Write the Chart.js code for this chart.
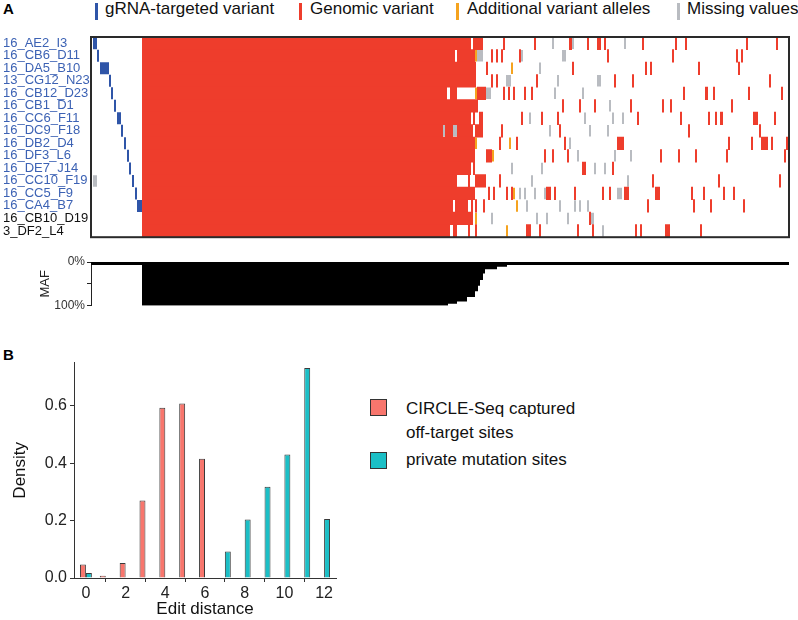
<!DOCTYPE html>
<html>
<head>
<meta charset="utf-8">
<script src="https://cdn.jsdelivr.net/npm/chart.js@4/dist/chart.umd.min.js"></script>
<style>
  body { margin: 0; background: #fff; font-family: "Liberation Sans", Arial, sans-serif; }
  #page { position: relative; width: 798px; height: 620px; overflow: hidden; }
  canvas { position: absolute; left: 0; }
  .lbl { position: absolute; font-size: 17px; line-height: 20px; color: #111; white-space: nowrap; }
  .tick { position: absolute; width: 3px; height: 17px; }
  .sq { position: absolute; width: 15px; height: 15px; border: 1px solid #333; }
  .panel { position: absolute; font-weight: bold; font-size: 15px; color: #000; }
</style>
</head>
<body>
<div id="page">
  <div class="panel" style="left:3px;top:0px;">A</div>
  <div class="panel" style="left:3px;top:346px;">B</div>

  <div class="tick" style="left:95px;top:3px;background:#2f55a8;"></div>
  <div class="lbl" style="left:105px;top:-1px;">gRNA-targeted variant</div>
  <div class="tick" style="left:299px;top:3px;background:#ee3d2c;"></div>
  <div class="lbl" style="left:310px;top:-1px;">Genomic variant</div>
  <div class="tick" style="left:456px;top:3px;background:#f5a31f;"></div>
  <div class="lbl" style="left:467px;top:-1px;">Additional variant alleles</div>
  <div class="tick" style="left:677px;top:3px;background:#b9bcc1;"></div>
  <div class="lbl" style="left:687px;top:-1px;">Missing values</div>

  <canvas id="heat" width="798" height="245" style="top:0px;"></canvas>
  <canvas id="maf" width="798" height="65" style="top:250px;"></canvas>
  <canvas id="dens" width="360" height="270" style="top:350px;"></canvas>

  <div class="sq" style="left:370px;top:399px;background:#f8766d;"></div>
  <div class="lbl" style="left:406px;top:397px;line-height:24px;">CIRCLE-Seq captured<br>off-target sites</div>
  <div class="sq" style="left:370px;top:452px;background:#1bbfc6;"></div>
  <div class="lbl" style="left:406px;top:450px;">private mutation sites</div>
</div>
<script>
// samples (rows of panel A)
const samples = ['16_AE2_I3', '16_CB6_D11', '16_DA5_B10', '13_CG12_N23', '16_CB12_D23', '16_CB1_D1',
  '16_CC6_F11', '16_DC9_F18', '16_DB2_D4', '16_DF3_L6', '16_DE7_J14', '16_CC10_F19', '16_CC5_F9',
  '16_CA4_B7', '16_CB10_D19', '3_DF2_L4'];
const variantColumns = 349;

// variant ranges per sample, in variant-column units [from, to]
const gRNAVariant = [
  [[1, 3]], [[3, 4]], [[4.5, 9]], [[9, 10]], [[10, 11]], [[11.5, 12.5]], [[13, 15]], [[15, 16]],
  [[16.5, 17.5]], [[18, 19]], [[19, 20]], [[20.5, 21.5]], [[22, 23]], [[23, 25.5]], [], []
];
const genomicVariant = [
  [[25.5,190],[191,196],[206,207],[221.5,222.5],[239,240.5],[248,249],[253,255],[256.5,257.5],[275.5,276.5],[292,293],[297,298],[327.5,328.5],[342.5,343.5]],
  [[25.5,182],[183,192],[200,201],[202.5,203.5],[205,206],[214,215],[258,259],[290.5,291.5],[322.5,323.5],[325,326]],
  [[25.5,192.5],[197.5,198.5],[240.5,241.5],[277,278],[279.5,280.5],[303.5,304.5],[323.5,324.5]],
  [[25.5,192.5],[200,201],[202.5,203.5],[222.5,223.5],[261.5,262.5],[270.5,271.5],[339,340]],
  [[25.5,178],[179.5,183],[193,197.5],[206,207],[208.5,209.5],[211,212],[216.5,217.5],[220,221],[296,297],[307,308.5],[311,312],[328.5,329.5],[345,346]],
  [[25.5,193.5],[235.5,236.5],[244,245],[251.5,252.5],[269.5,270.5],[285.5,286.5],[289.5,290.5],[320,321]],
  [[25.5,190],[191,192],[194,196],[215,216],[225,226],[233,234],[273,274],[294.5,295.5],[308.5,309.5],[312,313],[314.5,316],[331,333.5],[341.5,342.5]],
  [[25.5,176],[177,181],[183,191],[192,196],[205,206],[234,235],[298.5,299.5],[334,335]],
  [[25.5,192],[204,205],[212.5,213.5],[236.5,237.5],[263,266.5],[318.5,319.5],[330,331],[335,338.5],[340,341],[347.5,348.5]],
  [[25.5,192],[197.5,200.5],[226.5,227.5],[230.5,231.5],[238,239],[284.5,285.5],[293.5,294.5],[302,303],[317.5,318.5],[346.5,347.5]],
  [[25.5,190],[191,192],[245.5,247.5],[260.5,261.5]],
  [[25.5,183],[188.5,189.5],[192,197.5],[204,205],[280.5,281.5],[313.5,314.5],[344,345]],
  [[25.5,192],[198.5,199.5],[201,202],[207.5,208.5],[210,211],[227.5,230],[231.5,232.5],[241.5,242.5],[255.5,256.5],[259,260],[266.5,269],[282,284.5],[300,301],[306,307],[316,317],[321,322]],
  [[25.5,181],[182,188.5],[190,191],[192,193],[196,197],[278,279],[301,302],[309.5,310.5],[326,327]],
  [[25.5,191],[249,250]],
  [[25.5,179.5],[181,183],[188.5,189.5],[192,193],[217.5,220],[224,225],[243,244],[250.5,251.5],[272,273],[274.5,275.5],[287,289.5],[304.5,305.5]]
];
const additionalAllele = [
  [], [[192,193]], [[210,211]], [], [[192,193]], [], [], [], [[192,193],[209,210]], [[200.5,201.5]],
  [], [], [[211,212]], [[212.5,213.5]], [[192,193]], [[207.5,208.5]]
];
const missingValue = [
  [[230.5,231.5],[240.5,241.5],[266.5,267.5]],
  [[114,115],[193,196],[215,216],[235.5,237.5]],
  [[224,225]],
  [[100,101],[207.5,210],[233,234],[253,255]],
  [[197.5,200],[231.5,232.5],[245.5,246.5]],
  [[53.5,54.5],[259,260]],
  [[219,220],[246.5,247.5],[260.5,261.5],[265.5,266.5]],
  [[176,177],[181,183],[229,230],[249,250],[258,259]],
  [[239,240]],
  [[243,244],[261.5,262.5],[269.5,270.5]],
  [[25.5,27],[92.5,96.5],[210,211],[225,226],[251.5,252.5],[256.5,257.5]],
  [[1,3],[62,63],[220,221],[268,269]],
  [[214,215],[216.5,217.5],[221.5,222.5],[226.5,227.5],[263,265.5]],
  [[217.5,218.5],[234,235],[241.5,242.5],[244,245],[248,249]],
  [[80,81],[200,201],[222.5,223.5],[227.5,228.5],[238,239],[250,251.5]],
  [[255.5,256.5]]
];

// MAF per variant column: [first column, MAF]
const mafSteps = [[0,0.07],[25.5,1],[178.5,0.955],[183,0.9],[188,0.8],[192,0.67],[193.5,0.545],
  [194.5,0.41],[196,0.26],[197,0.167],[203,0.106],[208,0.07],[349,0.07]];

// panel B
const editDistance = [0, 1, 2, 3, 4, 5, 6, 7, 8, 9, 10, 11, 12];
const circleSeqDensity = [0.047, 0.008, 0.052, 0.27, 0.593, 0.608, 0.415, null, null, null, null, null, null];
const privateDensity = [0.017, null, null, null, null, null, null, 0.092, 0.204, 0.318, 0.43, 0.731, 0.205];

const FONT = '"Liberation Sans", Arial, sans-serif';

function toBars(rows) {
  return rows.flatMap((marks, r) => marks.map(m => ({ y: samples[r], x: m })));
}

const frame = {
  id: 'frame',
  afterDatasetsDraw(chart) {
    const a = chart.chartArea, c = chart.ctx;
    c.save();
    c.strokeStyle = '#2a2a2a';
    c.lineWidth = 2;
    c.strokeRect(a.left, a.top, a.right - a.left, a.bottom - a.top);
    c.restore();
  }
};

new Chart(document.getElementById('heat'), {
  type: 'bar',
  data: {
    labels: samples,
    datasets: [
      { label: 'Genomic variant', data: toBars(genomicVariant), backgroundColor: '#ee3d2c', barPercentage: 1.06 },
      { label: 'Missing values', data: toBars(missingValue), backgroundColor: '#b9bcc1', barPercentage: 0.92 },
      { label: 'Additional variant alleles', data: toBars(additionalAllele), backgroundColor: '#f5a31f', barPercentage: 0.92 },
      { label: 'gRNA-targeted variant', data: toBars(gRNAVariant), backgroundColor: '#2f55a8', barPercentage: 0.96 }
    ]
  },
  options: {
    indexAxis: 'y',
    responsive: false,
    animation: false,
    layout: { padding: { left: 3, right: 9, top: 37, bottom: 7 } },
    datasets: { bar: { grouped: false, categoryPercentage: 1, borderWidth: 0, borderSkipped: false } },
    plugins: { legend: { display: false }, tooltip: { enabled: false } },
    scales: {
      x: { type: 'linear', min: 0, max: variantColumns, display: false },
      y: {
        type: 'category',
        grid: { display: false },
        border: { display: false },
        ticks: {
          autoSkip: false,
          crossAlign: 'far',
          padding: 0,
          font: { family: FONT, size: 13 },
          color: ctx => ctx.index < 14 ? '#3c62b4' : '#111'
        },
        afterFit(s) { s.width = 88; }
      }
    }
  },
  plugins: [frame]
});

new Chart(document.getElementById('maf'), {
  type: 'line',
  data: {
    datasets: [{
      data: mafSteps.map(([x, y]) => ({ x, y })),
      stepped: 'before',
      fill: { value: 0 },
      backgroundColor: '#000',
      borderColor: '#000',
      borderWidth: 0,
      pointRadius: 0
    }]
  },
  options: {
    responsive: false,
    animation: false,
    layout: { padding: { left: 0, right: 9, top: 12, bottom: 9 } },
    plugins: { legend: { display: false }, tooltip: { enabled: false } },
    scales: {
      x: { type: 'linear', min: 0, max: variantColumns, display: false },
      y: {
        min: 0, max: 1, reverse: true,
        grid: { drawOnChartArea: false, tickLength: 4, color: '#222' },
        border: { color: '#222', width: 1 },
        ticks: {
          stepSize: 0.25, padding: 2,
          font: { family: FONT, size: 12 }, color: '#333',
          callback: v => v === 0 ? '0%' : (v === 1 ? '100%' : '')
        },
        title: { display: true, text: 'MAF', font: { family: FONT, size: 13 }, color: '#222', padding: { top: 38, bottom: 0 } },
        afterFit(s) { s.width = 91; }
      }
    }
  }
});

new Chart(document.getElementById('dens'), {
  type: 'bar',
  data: {
    labels: editDistance,
    datasets: [
      { label: 'CIRCLE-Seq captured off-target sites', data: circleSeqDensity, backgroundColor: '#f8766d' },
      { label: 'private mutation sites', data: privateDensity, backgroundColor: '#1bbfc6' }
    ]
  },
  options: {
    responsive: false,
    animation: false,
    layout: { padding: { left: 0, right: 24, top: 12, bottom: 0 } },
    datasets: { bar: { categoryPercentage: 0.6, barPercentage: 1, borderWidth: 1, borderColor: '#3a3a3a', skipNull: false } },
    plugins: { legend: { display: false }, tooltip: { enabled: false } },
    scales: {
      x: {
        type: 'linear', min: -0.6, max: 12.6, offset: false,
        grid: { drawOnChartArea: false, tickLength: 4, color: '#333' },
        border: { color: '#333' },
        ticks: { stepSize: 2, includeBounds: false, padding: 2, font: { family: FONT, size: 16 }, color: '#222', callback: v => String(v) },
        title: { display: true, text: 'Edit distance', font: { family: FONT, size: 17 }, color: '#111', padding: { top: 2, bottom: 0 } },
        afterFit(s) { s.height = 42; }
      },
      y: {
        min: 0, max: 0.75,
        grid: { drawOnChartArea: false, tickLength: 4, color: '#333' },
        border: { color: '#333' },
        ticks: { stepSize: 0.2, includeBounds: false, padding: 3, font: { family: FONT, size: 16 }, color: '#222', callback: v => v.toFixed(1) },
        title: { display: true, text: 'Density', font: { family: FONT, size: 17 }, color: '#111', padding: { top: 10, bottom: 0 } },
        afterFit(s) { s.width = 74; }
      }
    }
  }
});
</script>
</body>
</html>
